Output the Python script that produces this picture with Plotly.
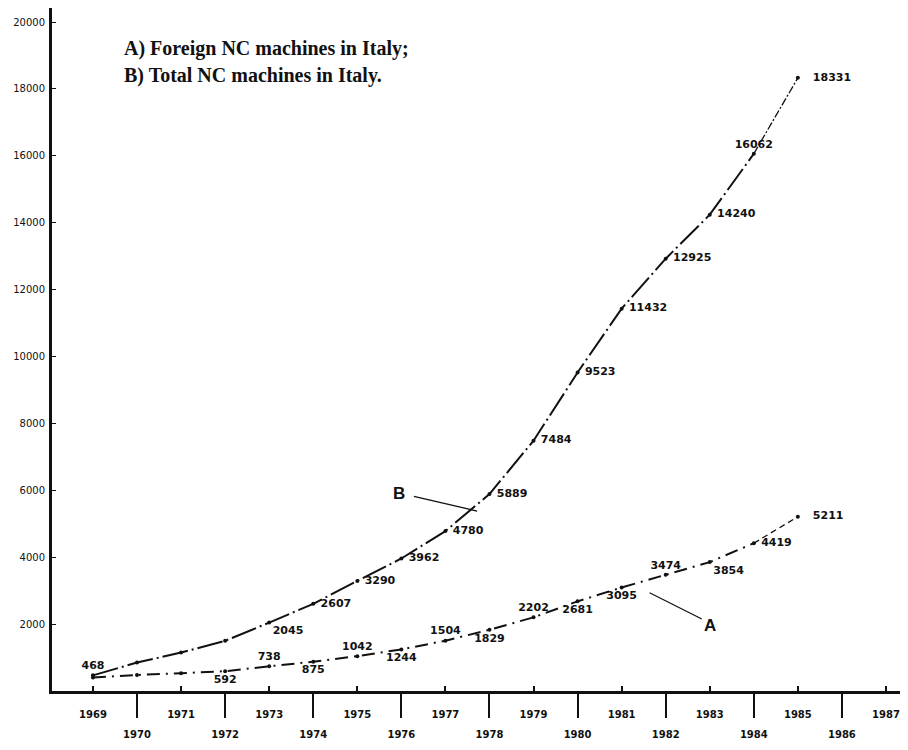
import plotly.graph_objects as go

# ---- data ----
years = list(range(1969, 1986))
total_nc = [468, 850, 1150, 1500, 2045, 2607, 3290, 3962, 4780, 5889,
            7484, 9523, 11432, 12925, 14240, 16062, 18331]
foreign_nc = [400, 480, 530, 592, 738, 875, 1042, 1244, 1504, 1829,
              2202, 2681, 3095, 3474, 3854, 4419, 5211]
total_unlabeled = {1970, 1971, 1972}
foreign_unlabeled = {1969, 1970, 1971}
total_pos = ["top center", "middle right", "middle right", "middle right", "bottom right",
             "middle right", "middle right", "middle right", "middle right", "middle right",
             "middle right", "middle right", "middle right", "middle right", "middle right",
             "top center", "middle right"]
foreign_pos = ["top center", "top center", "top center", "bottom center", "top center",
               "bottom center", "top center", "bottom center", "top center", "bottom center",
               "top center", "bottom center", "bottom center", "top center", "bottom right",
               "middle right", "middle right"]
odd_years = list(range(1969, 1988, 2))
even_years = list(range(1970, 1987, 2))
y_ticks = list(range(2000, 20001, 2000))


def make_labels(yrs, vals, unlabeled, positions):
    out = []
    for y, v, p in zip(yrs, vals, positions):
        if y in unlabeled:
            out.append("")
        elif y == yrs[-1]:
            out.append("   " + str(v))
        elif p == "middle right":
            out.append(" " + str(v))
        else:
            out.append(str(v))
    return out


total_text = make_labels(years, total_nc, total_unlabeled, total_pos)
foreign_text = make_labels(years, foreign_nc, foreign_unlabeled, foreign_pos)

INK = "#111111"
fig = go.Figure()

# B: total NC machines
fig.add_trace(go.Scatter(x=years[:-1], y=total_nc[:-1], mode="lines",
                         line=dict(color=INK, width=2, dash="26px,4px,2px,4px"),
                         showlegend=False, hoverinfo="skip"))
fig.add_trace(go.Scatter(x=years[-2:], y=total_nc[-2:], mode="lines",
                         line=dict(color=INK, width=1.3, dash="8px,2px,2px,2px"),
                         showlegend=False, hoverinfo="skip"))
fig.add_trace(go.Scatter(x=years, y=total_nc, mode="markers+text", text=total_text,
                         textposition=total_pos,
                         textfont=dict(family="DejaVu Sans", size=11, color=INK, weight="bold"),
                         marker=dict(color=INK, size=4), showlegend=False))

# A: foreign NC machines
fig.add_trace(go.Scatter(x=years[:-1], y=foreign_nc[:-1], mode="lines",
                         line=dict(color=INK, width=2, dash="13px,6px,2px,6px"),
                         showlegend=False, hoverinfo="skip"))
fig.add_trace(go.Scatter(x=years[-2:], y=foreign_nc[-2:], mode="lines",
                         line=dict(color=INK, width=1.3, dash="6px,4px"),
                         showlegend=False, hoverinfo="skip"))
fig.add_trace(go.Scatter(x=years, y=foreign_nc, mode="markers+text", text=foreign_text,
                         textposition=foreign_pos,
                         textfont=dict(family="DejaVu Sans", size=11, color=INK, weight="bold"),
                         marker=dict(color=INK, size=4), showlegend=False))

# invisible trace to activate second x axis
fig.add_trace(go.Scatter(x=[years[0]], y=[total_nc[0]], xaxis="x2", mode="markers",
                         marker=dict(opacity=0), showlegend=False, hoverinfo="skip"))

xr = [1968.07, 1987.5]
fig.update_layout(
    width=900, height=742,
    margin=dict(l=44, r=0, t=0, b=59),
    paper_bgcolor="white", plot_bgcolor="white",
    xaxis=dict(range=xr, tickvals=odd_years, ticktext=[str(y) for y in odd_years],
               ticks="inside", ticklen=5, tickwidth=1.5, tickcolor=INK,
               showline=True, linecolor=INK, linewidth=2.5, showgrid=False, zeroline=False,
               ticklabelstandoff=12,
               tickfont=dict(family="DejaVu Sans", size=10, color=INK, weight="bold")),
    xaxis2=dict(range=xr, overlaying="x", side="bottom", anchor="y",
                tickvals=even_years, ticktext=[str(y) for y in even_years],
                ticks="outside", ticklen=26, tickwidth=1.5, tickcolor=INK,
                showline=False, showgrid=False, zeroline=False,
                ticklabelstandoff=8,
                tickfont=dict(family="DejaVu Sans", size=10, color=INK, weight="bold")),
    yaxis=dict(range=[0, 20420], tickvals=y_ticks, ticktext=[str(v) for v in y_ticks],
               ticks="inside", ticklen=4, tickwidth=1.2, tickcolor=INK,
               showline=True, linecolor=INK, linewidth=3, showgrid=False, zeroline=False,
               ticklabelstandoff=2,
               tickfont=dict(family="DejaVu Sans", size=10, color=INK)),
)

# series identification
fig.add_annotation(xref="paper", yref="paper", x=0.0818, y=0.9414, xanchor="left", yanchor="middle",
                   text="<b>A) Foreign NC machines in Italy;</b>", showarrow=False,
                   font=dict(family="Liberation Serif", size=20, color=INK))
fig.add_annotation(xref="paper", yref="paper", x=0.0818, y=0.9018, xanchor="left", yanchor="middle",
                   text="<b>B) Total NC machines in Italy.</b>", showarrow=False,
                   font=dict(family="Liberation Serif", size=20, color=INK))

# pointer labels
fig.add_annotation(x=1977.72, y=5381, ax=1976.25, ay=5830, xref="x", yref="y", axref="x", ayref="y",
                   text="", showarrow=True, arrowhead=0, arrowwidth=1.3, arrowcolor=INK)
fig.add_annotation(x=1975.95, y=5919, text="<b>B</b>", showarrow=False, xanchor="center",
                   font=dict(family="Liberation Sans", size=17, color=INK))
fig.add_annotation(x=1982.82, y=2152, ax=1981.60, ay=2960, xref="x", yref="y", axref="x", ayref="y",
                   text="", showarrow=True, arrowhead=0, arrowwidth=1.3, arrowcolor=INK)
fig.add_annotation(x=1983.0, y=1973, text="<b>A</b>", showarrow=False, xanchor="center",
                   font=dict(family="Liberation Sans", size=17, color=INK))

fig.write_html("out.html")
